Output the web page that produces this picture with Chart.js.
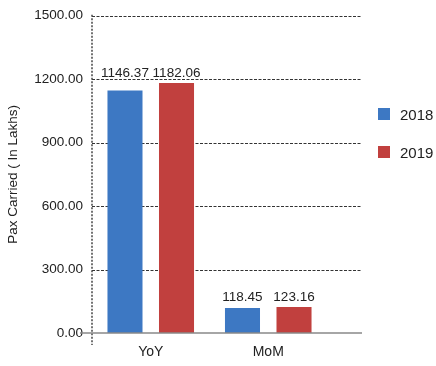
<!DOCTYPE html>
<html>
<head>
<meta charset="utf-8">
<script src="https://cdn.jsdelivr.net/npm/chart.js@4/dist/chart.umd.min.js"></script>
<style>
  html, body { margin: 0; padding: 0; background: #fff; }
  #wrap { position: relative; width: 436px; height: 366px; }
  #legend { position: absolute; left: 378px; top: 104px; font-family: "Liberation Sans", Arial, sans-serif; font-size: 15px; color: #222; }
  .item { display: flex; align-items: center; height: 20px; margin-bottom: 18px; }
  .box { width: 12px; height: 12px; margin-right: 10px; }
</style>
</head>
<body>
<div id="wrap">
  <canvas id="c" width="436" height="366"></canvas>
  <div id="legend"></div>
</div>
<script>
const categories = ["YoY", "MoM"];
const seriesNames = ["2018", "2019"];
const values2018 = [1146.37, 118.45];
const values2019 = [1182.06, 123.16];
const yTicks = [0, 300, 600, 900, 1200, 1500];
const colors = ["#3d78c3", "#c1403e"];

const FONT = '"Liberation Sans", Arial, sans-serif';

const customGrid = {
  id: "customGrid",
  beforeDatasetsDraw(chart) {
    const { ctx, chartArea } = chart;
    const y = chart.scales.y;
    ctx.save();
    ctx.strokeStyle = "#333";
    ctx.lineWidth = 1;
    ctx.setLineDash([3, 1.5]);
    yTicks.forEach(v => {
      if (v === 0) return;
      const py = Math.round(y.getPixelForValue(v)) + 0.5;
      ctx.beginPath();
      ctx.moveTo(chartArea.left, py);
      ctx.lineTo(chartArea.right + 35, py);
      ctx.stroke();
    });
    ctx.strokeStyle = "#444";
    ctx.lineWidth = 1.5;
    ctx.setLineDash([2, 1.5]);
    ctx.beginPath();
    ctx.moveTo(chartArea.left, chartArea.top - 1);
    ctx.lineTo(chartArea.left, chartArea.bottom + 12);
    ctx.stroke();
    ctx.restore();
  },
  afterDatasetsDraw(chart) {
    const { ctx, chartArea } = chart;
    const y = chart.scales.y;
    ctx.save();
    ctx.strokeStyle = "#888";
    ctx.lineWidth = 1.5;
    const py = y.getPixelForValue(0);
    ctx.beginPath();
    ctx.moveTo(chartArea.left - 12, py);
    ctx.lineTo(chartArea.right + 35, py);
    ctx.stroke();
    ctx.fillStyle = "#222";
    ctx.font = "13.5px " + FONT;
    ctx.textAlign = "center";
    ctx.textBaseline = "alphabetic";
    categories.forEach((cat, i) => {
      let top = Infinity;
      chart.data.datasets.forEach((ds, d) => {
        top = Math.min(top, chart.getDatasetMeta(d).data[i].y);
      });
      chart.data.datasets.forEach((ds, d) => {
        const bar = chart.getDatasetMeta(d).data[i];
        ctx.fillText(ds.data[i].toFixed(2), bar.x, top - 6);
      });
    });
    ctx.restore();
  }
};

const chart = new Chart(document.getElementById("c"), {
  type: "bar",
  data: {
    labels: categories,
    datasets: [
      { label: seriesNames[0], data: values2018, backgroundColor: colors[0] },
      { label: seriesNames[1], data: values2019, backgroundColor: colors[1] }
    ]
  },
  options: {
    responsive: false,
    animation: false,
    layout: { padding: { top: 7, right: 109, bottom: 2, left: 0 } },
    datasets: { bar: { categoryPercentage: 0.877, barPercentage: 0.68 } },
    plugins: { legend: { display: false }, tooltip: { enabled: false } },
    scales: {
      x: {
        afterFit(scale) { scale.height = 31; },
        grid: { display: false, drawTicks: false },
        border: { display: false },
        ticks: { color: "#222", font: { family: FONT, size: 14 }, padding: 11 }
      },
      y: {
        min: 0, max: 1500,
        afterBuildTicks(scale) { scale.ticks = yTicks.map(v => ({ value: v })); },
        afterFit(scale) { scale.width = 92; },
        grid: { display: false, drawTicks: false },
        border: { display: false },
        ticks: { color: "#222", font: { family: FONT, size: 13.5, lineHeight: 1 }, padding: 9,
                 callback: v => Number(v).toFixed(2) },
        title: { display: true, text: "Pax Carried ( In Lakhs)", color: "#222",
                 font: { family: FONT, size: 13.5 }, padding: { top: 5, bottom: 0 } }
      }
    }
  },
  plugins: [customGrid]
});

const legend = document.getElementById("legend");
chart.data.datasets.forEach(ds => {
  const it = document.createElement("div");
  it.className = "item";
  const b = document.createElement("span");
  b.className = "box";
  b.style.background = ds.backgroundColor;
  const t = document.createElement("span");
  t.textContent = ds.label;
  it.appendChild(b); it.appendChild(t);
  legend.appendChild(it);
});
</script>
</body>
</html>
